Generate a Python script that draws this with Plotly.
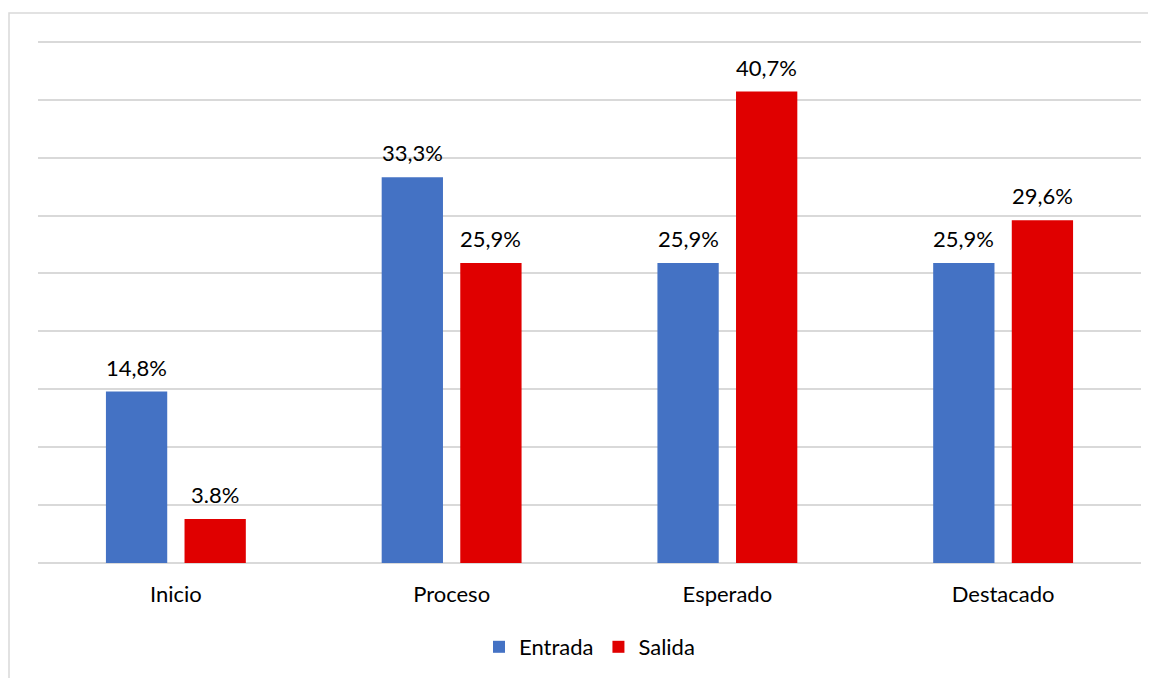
import plotly.graph_objects as go

categories = ["Inicio", "Proceso", "Esperado", "Destacado"]
entrada = [14.8, 33.3, 25.9, 25.9]
salida = [3.8, 25.9, 40.7, 29.6]
entrada_labels = ["14,8%", "33,3%", "25,9%", "25,9%"]
salida_labels = ["3.8%", "25,9%", "40,7%", "29,6%"]

FONT = "Lato"
FS = 22
BARGAP = 0.43
BARGROUPGAP = 0.22

fig = go.Figure()
fig.add_trace(go.Bar(name="Entrada", x=categories, y=entrada,
                     marker=dict(color="#4472C4", line=dict(width=0))))
fig.add_trace(go.Bar(name="Salida", x=categories, y=salida,
                     marker=dict(color="#E00000", line=dict(width=0))))

# data labels placed at each bar's slot centre within its group
slot = (1 - BARGAP) / 2
annotations = []
for i in range(len(categories)):
    for j, (vals, labs) in enumerate([(entrada, entrada_labels), (salida, salida_labels)]):
        annotations.append(dict(
            x=i + (j - 0.5) * slot, y=vals[i], xref="x", yref="y",
            text=labs[i], showarrow=False, yanchor="bottom", xanchor="center",
            yshift=9, font=dict(family=FONT, size=FS, color="#000000")))

PLOT_H = 678 - 28 - 123
fig.update_layout(
    width=1156, height=678,
    margin=dict(l=30, r=23, t=28, b=123),
    paper_bgcolor="white", plot_bgcolor="white",
    barmode="group", bargap=BARGAP, bargroupgap=BARGROUPGAP,
    font=dict(family=FONT, size=FS, color="#000000"),
    showlegend=True,
    legend=dict(orientation="h", x=0.5, xanchor="center", y=(555 - 639) / PLOT_H, yanchor="middle",
                font=dict(family=FONT, size=FS), traceorder="normal", itemwidth=30),
    xaxis=dict(showline=False, ticks="", tickfont=dict(family=FONT, size=FS),
               ticklabelstandoff=16),
    yaxis=dict(range=[0, 45.5], dtick=5, showticklabels=False, gridcolor="#d9d9d9",
               gridwidth=1.5, zeroline=True, zerolinecolor="#d9d9d9", zerolinewidth=1.5),
    annotations=annotations,
    shapes=[dict(type="rect", xref="paper", yref="paper",
                 x0=(1 - 30) / 1103, x1=(1180 - 30) / 1103,
                 y0=(555 - 720) / PLOT_H, y1=(555 - 5) / PLOT_H,
                 line=dict(color="#d9d9d9", width=1.5), fillcolor="rgba(0,0,0,0)", layer="below")],
)
fig.write_html("out.html")
